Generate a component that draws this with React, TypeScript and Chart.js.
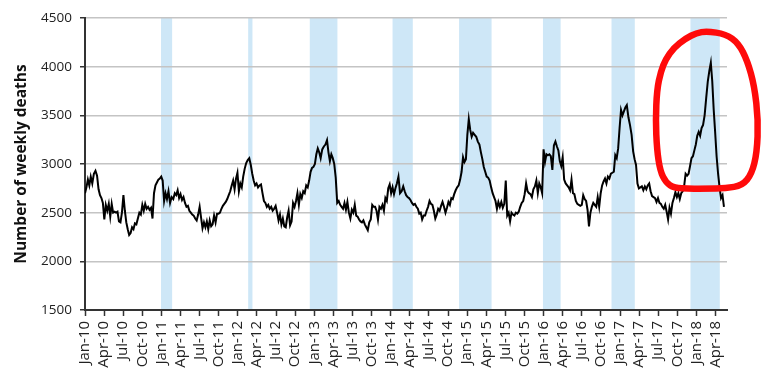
import React, { useEffect, useRef } from 'react';
import { Chart, registerables } from 'chart.js';

Chart.register(...registerables);

// Weekly deaths, one array per calendar year (weeks starting 1 Jan 2010)
const deaths2010 = [2700, 2760, 2840, 2780, 2870, 2800, 2900, 2930, 2880, 2740, 2680, 2650, 2600, 2430, 2580, 2520, 2590, 2460, 2590, 2500, 2510, 2500, 2510, 2410, 2400, 2500, 2680, 2520, 2400, 2330, 2270, 2290, 2350, 2330, 2390, 2380, 2440, 2500, 2480, 2580, 2520, 2590, 2540, 2560, 2530, 2550, 2440, 2700, 2780, 2810, 2840, 2850, 2870];
const deaths2011 = [2830, 2620, 2700, 2640, 2720, 2600, 2660, 2640, 2700, 2680, 2730, 2650, 2690, 2630, 2660, 2600, 2560, 2570, 2520, 2500, 2480, 2470, 2440, 2420, 2480, 2560, 2450, 2340, 2400, 2350, 2410, 2330, 2420, 2360, 2380, 2470, 2400, 2490, 2490, 2500, 2540, 2570, 2590, 2610, 2640, 2680, 2720, 2780, 2830, 2740, 2850, 2910];
const deaths2012 = [2720, 2800, 2760, 2870, 2950, 3010, 3040, 3060, 2990, 2900, 2830, 2780, 2800, 2760, 2780, 2790, 2700, 2620, 2600, 2560, 2580, 2540, 2560, 2520, 2540, 2570, 2500, 2420, 2480, 2380, 2440, 2360, 2350, 2450, 2520, 2370, 2410, 2600, 2560, 2620, 2700, 2580, 2690, 2650, 2720, 2700, 2780, 2760, 2830, 2920, 2960, 2970];
const deaths2013 = [3000, 3100, 3160, 3120, 3060, 3150, 3180, 3200, 3245, 3120, 3030, 3100, 3060, 3000, 2860, 2600, 2620, 2580, 2560, 2540, 2600, 2530, 2610, 2500, 2440, 2530, 2500, 2580, 2470, 2460, 2430, 2410, 2400, 2420, 2380, 2350, 2320, 2400, 2430, 2580, 2560, 2560, 2520, 2430, 2560, 2540, 2580, 2520, 2650, 2620, 2750, 2790];
const deaths2014 = [2700, 2760, 2690, 2750, 2800, 2870, 2700, 2720, 2770, 2720, 2680, 2660, 2650, 2630, 2600, 2580, 2590, 2560, 2540, 2490, 2500, 2430, 2470, 2470, 2520, 2560, 2620, 2590, 2580, 2520, 2440, 2480, 2540, 2520, 2570, 2610, 2560, 2500, 2550, 2610, 2580, 2650, 2640, 2690, 2730, 2760, 2780, 2840, 2920, 3070, 3020, 3050];
const deaths2015 = [3300, 3460, 3350, 3280, 3320, 3300, 3280, 3230, 3200, 3120, 3050, 2970, 2920, 2870, 2860, 2830, 2760, 2700, 2660, 2620, 2540, 2610, 2560, 2610, 2550, 2590, 2830, 2470, 2500, 2410, 2500, 2480, 2470, 2500, 2490, 2510, 2560, 2600, 2620, 2690, 2800, 2720, 2700, 2690, 2660, 2740, 2770, 2830, 2700, 2800, 2760, 2700];
const deaths2016 = [3150, 3020, 3100, 3090, 3100, 3080, 2940, 3190, 3230, 3180, 3140, 3030, 2980, 3070, 2840, 2800, 2780, 2760, 2730, 2840, 2700, 2690, 2620, 2590, 2580, 2570, 2580, 2680, 2640, 2620, 2530, 2360, 2500, 2560, 2600, 2580, 2560, 2660, 2560, 2700, 2780, 2820, 2850, 2800, 2870, 2850, 2900, 2910, 2920, 3090, 3060, 3160];
const deaths2017 = [3370, 3555, 3500, 3540, 3580, 3605, 3480, 3400, 3300, 3130, 3050, 2990, 2800, 2750, 2760, 2770, 2730, 2770, 2740, 2780, 2800, 2720, 2670, 2660, 2650, 2610, 2650, 2600, 2590, 2560, 2540, 2580, 2510, 2430, 2550, 2490, 2600, 2650, 2710, 2660, 2700, 2640, 2700, 2720, 2770, 2900, 2880, 2900, 2980, 3060, 3080, 3140];
const deaths2018 = [3200, 3290, 3330, 3290, 3370, 3400, 3500, 3680, 3850, 3960, 4040, 3850, 3560, 3330, 3080, 2900, 2760, 2650, 2680, 2560];

const firstWeek = '2010-01-01';

// Quarter tick labels
const quarterLabels = [
  'Jan-10', 'Apr-10', 'Jul-10', 'Oct-10', 'Jan-11', 'Apr-11', 'Jul-11', 'Oct-11',
  'Jan-12', 'Apr-12', 'Jul-12', 'Oct-12', 'Jan-13', 'Apr-13', 'Jul-13', 'Oct-13',
  'Jan-14', 'Apr-14', 'Jul-14', 'Oct-14', 'Jan-15', 'Apr-15', 'Jul-15', 'Oct-15',
  'Jan-16', 'Apr-16', 'Jul-16', 'Oct-16', 'Jan-17', 'Apr-17', 'Jul-17', 'Oct-17',
  'Jan-18', 'Apr-18',
];

// Shaded (flu season) periods
const bandStarts = ['2010-12-30', '2012-02-19', '2012-12-10', '2014-01-10', '2014-11-23', '2015-12-29', '2016-11-21', '2017-12-03'];
const bandEnds = ['2011-02-20', '2012-03-10', '2013-04-20', '2014-04-15', '2015-04-26', '2016-03-22', '2017-03-11', '2018-04-21'];

// Hand-drawn red loop around the 2018 peak (months since Jan 2010, deaths)
const loopMonths = [97.6, 100.6, 102.6, 104.0, 105.1, 105.7, 105.5, 104.7, 103.2, 100.6, 97.6, 94.9, 92.5, 91.2, 90.3, 89.8, 89.6, 89.8, 90.4, 91.2, 92.4, 94.3, 96.0];
const loopValues = [4365, 4335, 4240, 4060, 3800, 3450, 3120, 2900, 2780, 2750, 2748, 2745, 2755, 2810, 2930, 3150, 3450, 3760, 3950, 4080, 4190, 4290, 4345];

const X_MAX_MONTHS = 100.8;
const FONT = "'Open Sans', 'Noto Sans', sans-serif";

function monthsFromDate(d: Date): number {
  const y = d.getUTCFullYear();
  const m = d.getUTCMonth();
  const day = d.getUTCDate();
  const dim = new Date(Date.UTC(y, m + 1, 0)).getUTCDate();
  return (y - 2010) * 12 + m + (day - 1) / dim;
}
function monthsFromString(s: string): number {
  const [y, m, d] = s.split('-').map(Number);
  return monthsFromDate(new Date(Date.UTC(y, m - 1, d)));
}

const bandPlugin = {
  id: 'fluBands',
  beforeDraw(chart: any) {
    const { ctx, chartArea, scales } = chart;
    const x = scales.x;
    ctx.save();
    ctx.beginPath();
    ctx.rect(chartArea.left, chartArea.top, chartArea.right - chartArea.left, chartArea.bottom - chartArea.top);
    ctx.clip();
    ctx.fillStyle = 'rgb(206,231,247)';
    bandStarts.forEach((s, i) => {
      const x0 = x.getPixelForValue(monthsFromString(s));
      const x1 = x.getPixelForValue(monthsFromString(bandEnds[i]));
      ctx.fillRect(x0, chartArea.top, x1 - x0, chartArea.bottom - chartArea.top);
    });
    ctx.restore();
  },
};

const loopPlugin = {
  id: 'redLoop',
  afterDraw(chart: any) {
    const { ctx, scales } = chart;
    const pts = loopMonths.map((m, i) => [scales.x.getPixelForValue(m), scales.y.getPixelForValue(loopValues[i])]);
    const n = pts.length;
    const mid = (a: number[], b: number[]) => [(a[0] + b[0]) / 2, (a[1] + b[1]) / 2];
    ctx.save();
    ctx.beginPath();
    const m0 = mid(pts[n - 1], pts[0]);
    ctx.moveTo(m0[0], m0[1]);
    for (let i = 0; i < n; i++) {
      const p = pts[i];
      const m = mid(p, pts[(i + 1) % n]);
      ctx.quadraticCurveTo(p[0], p[1], m[0], m[1]);
    }
    ctx.closePath();
    ctx.strokeStyle = '#ff0a0a';
    ctx.lineWidth = 6.5;
    ctx.lineJoin = 'round';
    ctx.lineCap = 'round';
    ctx.stroke();
    ctx.restore();
  },
};

export default function App() {
  const canvasRef = useRef<HTMLCanvasElement | null>(null);

  useEffect(() => {
    const canvas = canvasRef.current;
    if (!canvas) return;
    const all = [...deaths2010, ...deaths2011, ...deaths2012, ...deaths2013, ...deaths2014, ...deaths2015, ...deaths2016, ...deaths2017, ...deaths2018];
    const [sy, sm, sd] = firstWeek.split('-').map(Number);
    const start = Date.UTC(sy, sm - 1, sd);
    const points = all.map((v, i) => ({ x: monthsFromDate(new Date(start + i * 7 * 86400000)), y: v }));

    const chart = new Chart(canvas, {
      type: 'line',
      data: {
        datasets: [
          {
            data: points,
            borderColor: '#000000',
            borderWidth: 2,
            pointRadius: 0,
            tension: 0,
            fill: false,
          },
        ],
      },
      options: {
        animation: false,
        responsive: false,
        maintainAspectRatio: false,
        layout: { padding: { top: 18, right: 36, left: 0, bottom: 0 } },
        plugins: { legend: { display: false }, tooltip: { enabled: false } },
        scales: {
          x: {
            type: 'linear',
            min: 0,
            max: X_MAX_MONTHS,
            afterBuildTicks: (scale: any) => {
              scale.ticks = quarterLabels.map((_, i) => ({ value: i * 3 }));
            },
            afterFit: (scale: any) => {
              scale.height = 71;
            },
            ticks: {
              autoSkip: false,
              minRotation: 90,
              maxRotation: 90,
              padding: 5,
              color: '#222222',
              font: { family: FONT, size: 15 },
              callback: (v: any) => quarterLabels[Math.round(Number(v) / 3)] ?? '',
            },
            grid: {
              drawOnChartArea: false,
              drawTicks: true,
              tickLength: 6,
              tickColor: '#333333',
              tickWidth: 1.5,
            },
            border: { color: '#333333', width: 2 },
          },
          y: {
            min: 1500,
            max: 4500,
            afterFit: (scale: any) => {
              scale.width = 85;
            },
            ticks: {
              stepSize: 500,
              padding: 8,
              color: '#222222',
              font: { family: FONT, size: 13.5 },
              callback: (v: any) => String(v),
            },
            grid: {
              color: '#c4c4c4',
              lineWidth: 1.5,
              tickLength: 5,
              tickColor: '#333333',
              tickWidth: 1.5,
            },
            border: { color: '#333333', width: 2 },
            title: {
              display: true,
              text: 'Number of weekly deaths',
              color: '#111111',
              font: { family: FONT, size: 15.5, weight: 'bold' },
              padding: { top: 12, bottom: 0 },
            },
          },
        },
      },
      plugins: [bandPlugin, loopPlugin],
    });
    return () => chart.destroy();
  }, []);

  return (
    <div style={{ position: 'fixed', left: 0, top: 0, width: 763, height: 381, background: '#ffffff' }}>
      <canvas ref={canvasRef} width={763} height={381} style={{ display: 'block', width: 763, height: 381 }} />
    </div>
  );
}
